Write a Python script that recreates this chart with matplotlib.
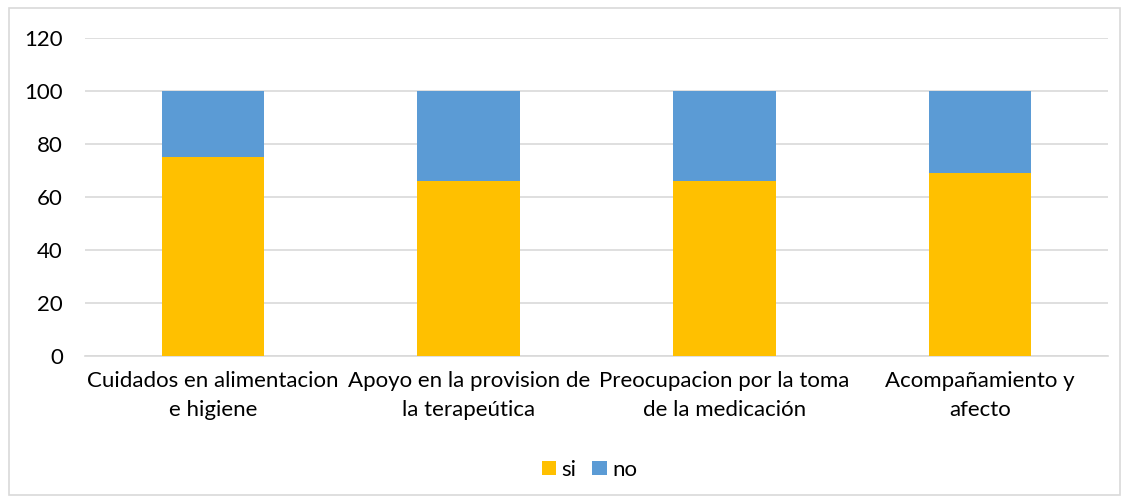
import matplotlib.pyplot as plt
from matplotlib.patches import Rectangle

categories = ["Cuidados en alimentacion\ne higiene",
              "Apoyo en la provision de\nla terapeútica",
              "Preocupacion por la toma\nde la medicación",
              "Acompañamiento y\nafecto"]
si = [75, 66, 66, 69]
no = [25, 34, 34, 31]
yticks = [0, 20, 40, 60, 80, 100, 120]

plt.rcParams['font.family'] = ['Lato', 'DejaVu Sans']

fig = plt.figure(figsize=(11.29, 5.03), dpi=100)
ax = fig.add_axes([0.0753, 0.2922, 0.9061, 0.6323])

x = range(len(categories))
ax.bar(x, si, width=0.4, color='#FFC000', label='si', zorder=3)
ax.bar(x, no, width=0.4, bottom=si, color='#5B9BD5', label='no', zorder=3)

ax.set_xlim(-0.5, 3.5)
ax.set_ylim(0, 120)
ax.set_yticks(yticks)
ax.set_xticks(list(x))
ax.set_xticklabels(categories, fontsize=16, linespacing=1.55)
ax.tick_params(axis='y', labelsize=16, length=0, pad=16)
ax.tick_params(axis='x', length=0, pad=11)
ax.grid(axis='y', color='#d9d9d9', linewidth=1.2, zorder=0)
for s in ['top', 'right', 'left']:
    ax.spines[s].set_visible(False)
ax.spines['bottom'].set_color('#d9d9d9')
ax.spines['bottom'].set_linewidth(1.2)

fig.legend(loc='center', bbox_to_anchor=(0.522, 0.066), ncol=2, frameon=False,
           fontsize=16, handlelength=0.65, handleheight=0.65,
           handletextpad=0.25, columnspacing=0.7)

fig.patches.append(Rectangle((0.008, 0.016), 0.984, 0.968, transform=fig.transFigure,
                             fill=False, edgecolor='#d9d9d9', linewidth=1.2))

fig.savefig('out.png', dpi=100)
